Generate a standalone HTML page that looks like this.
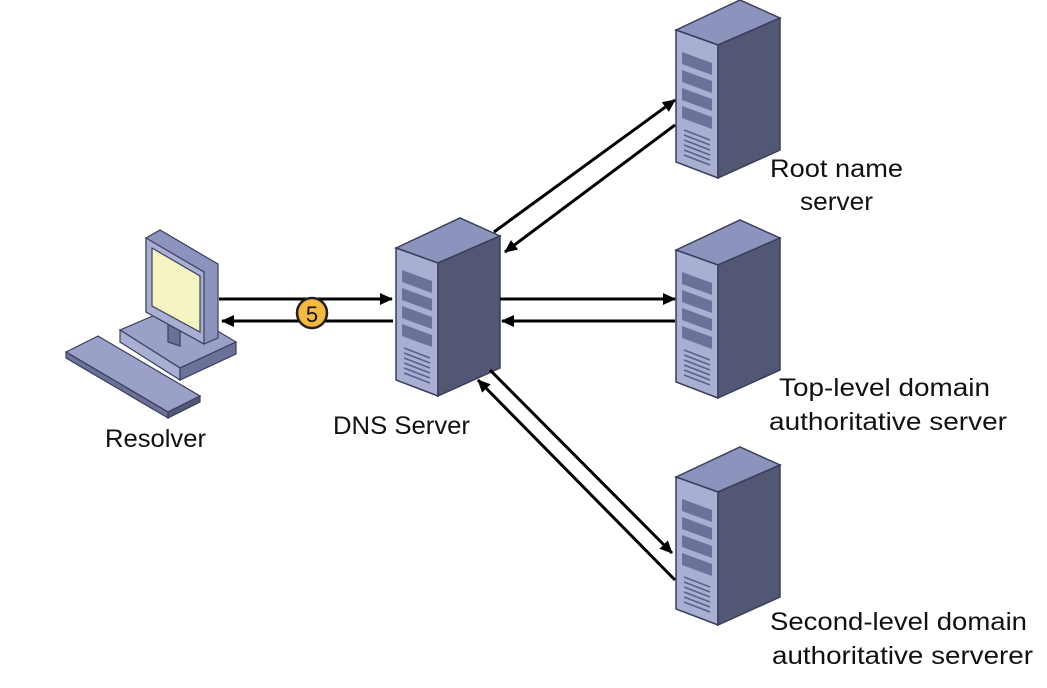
<!DOCTYPE html>
<html><head><meta charset="utf-8"><style>
html,body{margin:0;padding:0;background:#fff;width:1047px;height:688px;overflow:hidden}
svg text{font-family:"Liberation Sans",sans-serif;font-size:25px;fill:#111}
</style></head><body>
<svg width="1047" height="688" viewBox="0 0 1047 688">
<defs>
<marker id="ah" markerWidth="13" markerHeight="12" refX="12" refY="6" orient="auto" markerUnits="userSpaceOnUse">
<path d="M0,0 L13,6 L0,12 Z" fill="#000"/></marker>
<g id="srv">
<polygon points="0,0 64,-30 104,-12 42,15" fill="#8c93bd" stroke="#3a3f5c" stroke-width="1.5"/>
<polygon points="0,0 42,15 42,148 0,132" fill="#a9afd3" stroke="#3a3f5c" stroke-width="1.5"/>
<polygon points="42,15 104,-12 104,120 42,148" fill="#525773" stroke="#3a3f5c" stroke-width="1.5"/>
<polygon points="6,22 36,33 36,45 6,34" fill="#6c7199"/>
<polygon points="6,40 36,51 36,63 6,52" fill="#6c7199"/>
<polygon points="6,58 36,69 36,81 6,70" fill="#6c7199"/>
<polygon points="6,76 36,87 36,99 6,88" fill="#6c7199"/>
<g stroke="#5b6088" stroke-width="1.5">
<line x1="8" y1="100" x2="34" y2="110"/><line x1="8" y1="105" x2="34" y2="115"/>
<line x1="8" y1="110" x2="34" y2="120"/><line x1="8" y1="115" x2="34" y2="125"/>
<line x1="8" y1="120" x2="34" y2="130"/><line x1="8" y1="125" x2="34" y2="135"/>
</g>
</g>
</defs>
<use href="#srv" x="676" y="30"/>
<use href="#srv" x="676" y="250"/>
<use href="#srv" x="676" y="477"/>
<use href="#srv" x="396" y="248"/>
<!-- computer -->
<g stroke="#3a3f5c" stroke-width="1.2">
<polygon points="120,330 176,306 236,342 180,368" fill="#9aa0c8"/>
<polygon points="120,330 180,368 180,380 120,342" fill="#a9afd3"/>
<polygon points="180,368 236,342 236,354 180,380" fill="#6c7199"/>
<polygon points="66,352 98,336 200,396 168,412" fill="#9aa0c8"/>
<polygon points="66,352 168,412 168,418 66,358" fill="#6c7199"/>
<polygon points="168,412 200,396 200,402 168,418" fill="#525773"/>
<polygon points="168,318 180,322 180,346 168,342" fill="#6c7199"/>
<polygon points="146,238 160,230 218,264 218,338 204,344 146,312" fill="#8c93bd"/>
<polygon points="146,238 204,272 204,344 146,312" fill="#a9afd3"/>
<polygon points="152,248 200,276 200,332 152,306" fill="#f4f3c2"/>
</g>
<!-- arrows -->
<g stroke="#000" stroke-width="3" fill="none">
<line x1="219" y1="299" x2="392" y2="299" marker-end="url(#ah)"/>
<line x1="393" y1="321" x2="222" y2="321" marker-end="url(#ah)"/>
<line x1="500" y1="299" x2="675" y2="299" marker-end="url(#ah)"/>
<line x1="675" y1="321" x2="502" y2="321" marker-end="url(#ah)"/>
<line x1="494" y1="232" x2="675" y2="100" marker-end="url(#ah)"/>
<line x1="675" y1="125" x2="505" y2="252" marker-end="url(#ah)"/>
<line x1="490" y1="370" x2="672" y2="553" marker-end="url(#ah)"/>
<line x1="675" y1="580" x2="478" y2="380" marker-end="url(#ah)"/>
</g>
<circle cx="312" cy="313" r="15" fill="#f5b942" stroke="#222" stroke-width="2.5"/>
<text x="312" y="322" text-anchor="middle" style="font-size:22px">5</text>
<text x="105" y="447" textLength="101" lengthAdjust="spacingAndGlyphs">Resolver</text>
<text x="333" y="434" textLength="137" lengthAdjust="spacingAndGlyphs">DNS Server</text>
<text x="770" y="177" textLength="133" lengthAdjust="spacingAndGlyphs">Root name</text>
<text x="800" y="210" textLength="73" lengthAdjust="spacingAndGlyphs">server</text>
<text x="779" y="396" textLength="211" lengthAdjust="spacingAndGlyphs">Top-level domain</text>
<text x="769" y="430" textLength="238" lengthAdjust="spacingAndGlyphs">authoritative server</text>
<text x="770" y="630" textLength="257" lengthAdjust="spacingAndGlyphs">Second-level domain</text>
<text x="772" y="664" textLength="261" lengthAdjust="spacingAndGlyphs">authoritative serverer</text>
</svg>
</body></html>
